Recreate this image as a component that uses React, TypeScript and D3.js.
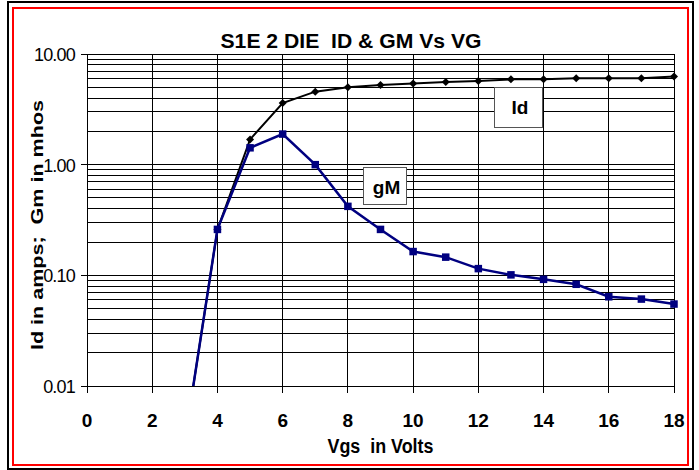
import React, { useEffect, useRef } from 'react';
import * as d3 from 'd3';

// Vgs sweep (volts) and the two measured series
const VGS = [3, 4, 5, 6, 7, 8, 9, 10, 11, 12, 13, 14, 15, 16, 17, 18];
const ID_AMPS = [0.0032, 0.26, 1.69, 3.6, 4.57, 5.0, 5.25, 5.4, 5.58, 5.7, 5.9, 5.9, 6.03, 6.03, 6.05, 6.25];
const GM_MHOS = [0.0032, 0.26, 1.42, 1.89, 1.0, 0.42, 0.26, 0.164, 0.146, 0.115, 0.101, 0.092, 0.083, 0.064, 0.061, 0.055];

const X_TICKS = [0, 2, 4, 6, 8, 10, 12, 14, 16, 18];
const Y_TICKS = [0.01, 0.1, 1, 10];
const Y_TICK_LABELS = ['0.01', '0.10', '1.00', '10.00'];

const TITLE = 'S1E 2 DIE  ID & GM Vs VG';
const X_LABEL = 'Vgs  in Volts';
const Y_LABEL = 'Id in amps;  Gm in mhos';

const W = 699;
const H = 470;
const FONT = 'Liberation Sans, Arial, Helvetica, sans-serif';

const App = () => {
  const ref = useRef<SVGSVGElement | null>(null);

  useEffect(() => {
    if (!ref.current) return;
    const svg = d3.select(ref.current);
    svg.selectAll('*').remove();

    const x = d3.scaleLinear().domain([0, 18]).range([87, 674]);
    const y = d3.scaleLog().domain([0.01, 10]).range([386, 54]);
    const [x0, x1] = x.range();
    const [yb, yt] = y.range();

    svg.append('rect').attr('width', W).attr('height', H).attr('fill', '#fff');

    // frame: outer black, inner red
    svg.append('rect')
      .attr('x', 8).attr('y', 2).attr('width', 685).attr('height', 467)
      .attr('fill', 'none').attr('stroke', '#000').attr('stroke-width', 2);
    svg.append('rect')
      .attr('x', 13).attr('y', 8).attr('width', 675).attr('height', 457)
      .attr('fill', 'none').attr('stroke', '#f00').attr('stroke-width', 2);

    svg.append('defs').append('clipPath').attr('id', 'plot-clip')
      .append('rect')
      .attr('x', x0 - 6).attr('y', yt - 6)
      .attr('width', x1 - x0 + 12).attr('height', yb - yt + 6);

    const grid = svg.append('g')
      .attr('stroke', '#000')
      .attr('stroke-width', 1)
      .attr('shape-rendering', 'crispEdges');

    // horizontal grid, major and minor log lines
    grid.selectAll('line.h')
      .data(y.ticks())
      .join('line')
      .attr('class', 'h')
      .attr('x1', x0).attr('x2', x1)
      .attr('y1', d => y(d)).attr('y2', d => y(d));

    // vertical grid
    grid.selectAll('line.v')
      .data(X_TICKS)
      .join('line')
      .attr('class', 'v')
      .attr('x1', d => x(d)).attr('x2', d => x(d))
      .attr('y1', yt).attr('y2', yb);

    // tick marks
    grid.selectAll('line.xt')
      .data(X_TICKS)
      .join('line')
      .attr('class', 'xt')
      .attr('x1', d => x(d)).attr('x2', d => x(d))
      .attr('y1', yb).attr('y2', yb + 7);
    grid.selectAll('line.yt')
      .data(Y_TICKS)
      .join('line')
      .attr('class', 'yt')
      .attr('x1', x0 - 6).attr('x2', x0)
      .attr('y1', d => y(d)).attr('y2', d => y(d));

    grid.append('rect')
      .attr('x', x0).attr('y', yt).attr('width', x1 - x0).attr('height', yb - yt)
      .attr('fill', 'none');

    // tick labels
    svg.append('g')
      .selectAll('text')
      .data(X_TICKS)
      .join('text')
      .attr('x', d => x(d))
      .attr('y', 426.5)
      .attr('text-anchor', 'middle')
      .attr('font-family', FONT)
      .attr('font-size', 19)
      .attr('font-weight', 'bold')
      .text(d => d);

    svg.append('g')
      .selectAll('text')
      .data(Y_TICKS)
      .join('text')
      .attr('x', 75)
      .attr('y', d => y(d) + 7)
      .attr('text-anchor', 'end')
      .attr('font-family', FONT)
      .attr('font-size', 18)
      .attr('letter-spacing', -0.8)
      .text((d, i) => Y_TICK_LABELS[i]);

    // series
    const plot = svg.append('g').attr('clip-path', 'url(#plot-clip)');
    const line = d3.line<number>()
      .x((d, i) => x(VGS[i]));

    const idPts = VGS.map((v, i) => ({ v, val: ID_AMPS[i] }));
    const gmPts = VGS.map((v, i) => ({ v, val: GM_MHOS[i] }));

    plot.append('path')
      .datum(ID_AMPS)
      .attr('fill', 'none')
      .attr('stroke', '#000')
      .attr('stroke-width', 2)
      .attr('d', line.y(d => y(d)));

    plot.selectAll('path.dia')
      .data(idPts)
      .join('path')
      .attr('class', 'dia')
      .attr('transform', d => `translate(${x(d.v)},${y(d.val)})`)
      .attr('d', 'M0,-4L4,0L0,4L-4,0Z')
      .attr('fill', '#000');

    plot.append('path')
      .datum(GM_MHOS)
      .attr('fill', 'none')
      .attr('stroke', '#000080')
      .attr('stroke-width', 2.5)
      .attr('d', line.y(d => y(d)));

    plot.selectAll('rect.sq')
      .data(gmPts)
      .join('rect')
      .attr('class', 'sq')
      .attr('x', d => x(d.v) - 3.75)
      .attr('y', d => y(d.val) - 3.75)
      .attr('width', 7.5)
      .attr('height', 7.5)
      .attr('fill', '#000080');

    // series labels in boxes
    const tag = (bx, by, bw, bh, label, tx, ty) => {
      svg.append('rect')
        .attr('x', bx).attr('y', by).attr('width', bw).attr('height', bh)
        .attr('fill', '#fff').attr('stroke', '#555').attr('stroke-width', 1);
      svg.append('text')
        .attr('x', tx).attr('y', ty)
        .attr('text-anchor', 'middle')
        .attr('font-family', FONT)
        .attr('font-size', 19)
        .attr('font-weight', 'bold')
        .text(label);
    };
    tag(494.5, 87.5, 48, 40, 'Id', 520, 113.5);
    tag(363.5, 167.5, 43, 37, 'gM', 386.5, 193.5);

    // titles
    svg.append('text')
      .attr('x', 351).attr('y', 47.5)
      .attr('text-anchor', 'middle')
      .attr('font-family', FONT)
      .attr('font-size', 20)
      .attr('font-weight', 'bold')
      .attr('textLength', 261)
      .attr('lengthAdjust', 'spacingAndGlyphs')
      .style('white-space', 'pre')
      .text(TITLE);

    svg.append('text')
      .attr('x', 380.5).attr('y', 453)
      .attr('text-anchor', 'middle')
      .attr('font-family', FONT)
      .attr('font-size', 20)
      .attr('font-weight', 'bold')
      .attr('textLength', 106)
      .attr('lengthAdjust', 'spacingAndGlyphs')
      .style('white-space', 'pre')
      .text(X_LABEL);

    svg.append('text')
      .attr('transform', 'translate(43,225) rotate(-90)')
      .attr('text-anchor', 'middle')
      .attr('font-family', FONT)
      .attr('font-size', 16)
      .attr('font-weight', 'bold')
      .attr('textLength', 250)
      .attr('lengthAdjust', 'spacingAndGlyphs')
      .style('white-space', 'pre')
      .text(Y_LABEL);
  }, []);

  return (
    <div style={{ position: 'absolute', left: 0, top: 0 }}>
      <svg ref={ref} width={W} height={H} style={{ display: 'block' }} />
    </div>
  );
};

export default App;
